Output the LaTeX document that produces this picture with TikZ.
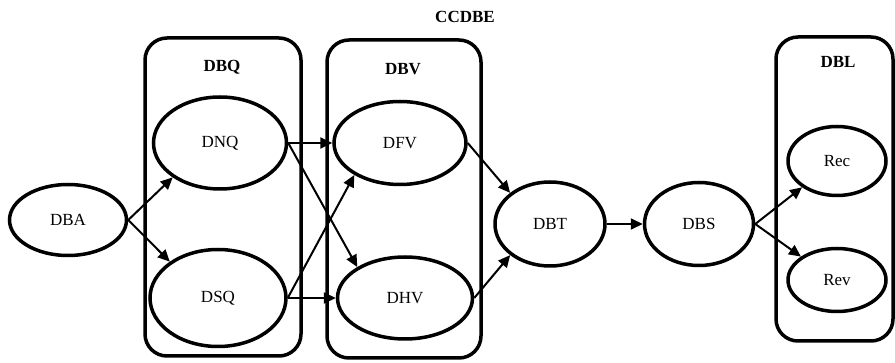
\documentclass[tikz,border=0pt]{standalone}
\usepackage{fontspec}
\setmainfont{Liberation Serif}
\usetikzlibrary{arrows.meta,positioning,shapes.geometric}

\begin{document}
\begin{tikzpicture}[
  x=1pt, y=-1pt,
  state/.style={draw, ellipse, line width=3.5pt, inner sep=0pt,
                font=\fontsize{17}{20}\selectfont},
  group/.style={draw, rounded corners=22pt, line width=3.5pt, inner sep=0pt},
  title/.style={font=\fontsize{17}{20}\selectfont\bfseries},
  flow/.style={-{Triangle[length=12pt,width=11pt]}, line width=2pt}
]
\useasboundingbox (0,0) rectangle (895,363);
% groups
\node[group, minimum width=156pt, minimum height=318pt] (dbq) at (223,197) {};
\node[group, minimum width=154pt, minimum height=318pt] (dbv) at (404,199) {};
\node[group, minimum width=117pt, minimum height=304pt] (dbl) at (834.5,189) {};
\node[title] (ccdbe) at (465,17) {CCDBE};
\node[title] (tdbq) at (222,67) {DBQ};
\node[title] (tdbv) at (403,69) {DBV};
\node[title] (tdbl) at (838,62) {DBL};
% states
\node[state, minimum width=117pt, minimum height=71pt] (dba) at (68,220) {DBA};
\node[state, minimum width=133pt, minimum height=92pt] (dnq) at (220,143) {DNQ};
\node[state, minimum width=136pt, minimum height=97pt] (dsq) at (218,298) {DSQ};
\node[state, minimum width=132pt, minimum height=83pt] (dfv) at (400,143) {DFV};
\node[state, minimum width=135pt, minimum height=82pt] (dhv) at (405,298) {DHV};
\node[state, minimum width=110pt, minimum height=84pt] (dbt) at (550,224) {DBT};
\node[state, minimum width=109pt, minimum height=83pt, right=36pt of dbt] (dbs) {DBS};
\node[state, minimum width=98pt, minimum height=69pt] (rec) at (837,161) {Rec};
\node[state, minimum width=98pt, minimum height=63pt] (rev) at (837,280) {Rev};
% flows
\draw[flow] (dba.east) -- (dnq.216);
\draw[flow] (dba.east) -- (dsq.143);
\draw[flow] (dnq.east) -- (dfv.west);
\draw[flow] (dnq.east) -- (dhv.147);
\draw[flow] (dsq.east) -- (dfv.215);
\draw[flow] (dsq.east) -- (dhv.west);
\draw[flow] (dfv.east) -- (dbt.142);
\draw[flow] (dhv.east) -- (dbt.218);
\draw[flow] (dbt) -- (dbs);
\draw[flow] (dbs.east) -- (rec.217);
\draw[flow] (dbs.east) -- (rev.147);
\end{tikzpicture}
\end{document}
